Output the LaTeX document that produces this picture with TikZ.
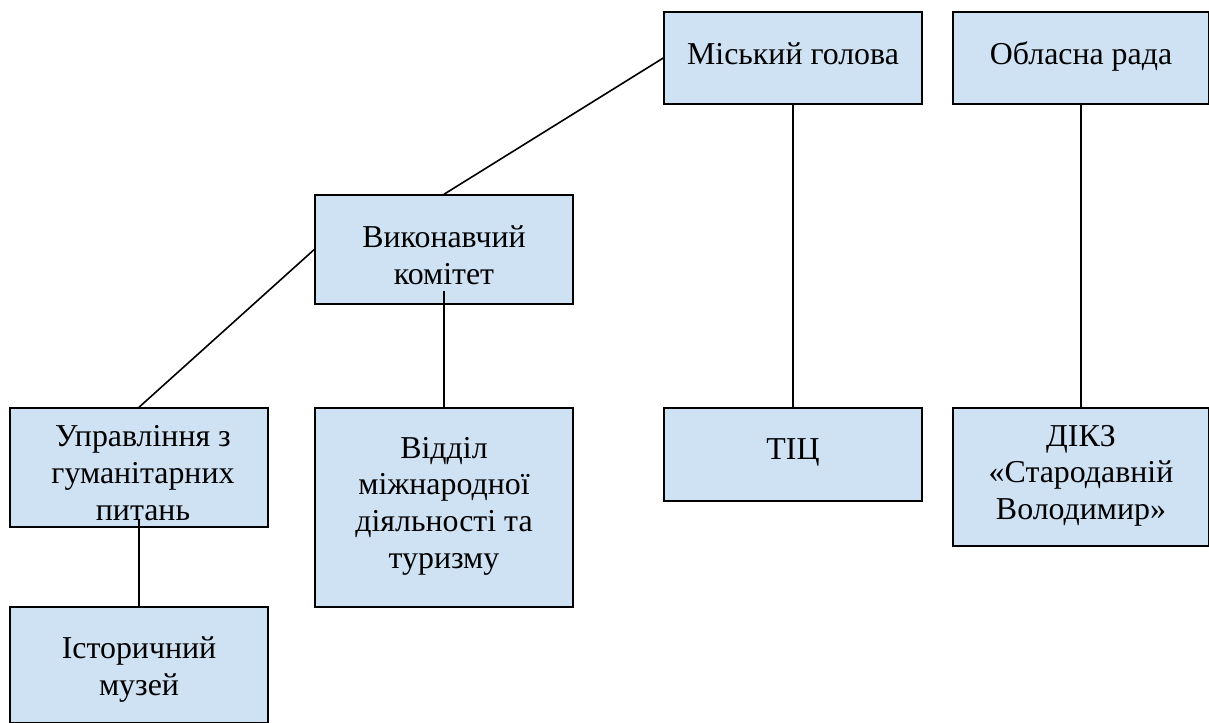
\documentclass[tikz,border=0pt]{standalone}
\usepackage{fontspec}
\setmainfont{Liberation Serif}
\usetikzlibrary{calc}
\definecolor{boxblue}{HTML}{CFE2F3}
\tikzset{box/.style={draw=black,fill=boxblue,line width=1.1pt,inner sep=0pt},
conn/.style={draw=black,line width=1.2pt}}
\newcommand{\bx}[8]{\node[box,minimum width=#3*0.75pt,minimum height=#4*0.75pt] (#5) at ({(#1+#3/2)*0.75pt},{-(#2+#4/2)*0.75pt}) {\smash{\makebox[0pt][c]{\hspace*{\dimexpr #8pt*3/2\relax}\raisebox{\dimexpr #7pt*3/4\relax}{\parbox[c]{\dimexpr #3pt*3/4\relax}{\centering\fontsize{23.9pt}{27.6pt}\selectfont #6}}}}};}
\begin{document}
\begin{tikzpicture}[x=0.75pt,y=-0.75pt]
\useasboundingbox (0,0) rectangle (1209,723);
\bx{664}{12}{258}{92}{mayor}{Міський голова}{1}{0}
\bx{953}{12}{256}{92}{oblast}{Обласна рада}{-2}{0}
\bx{315}{195}{258}{109}{vyk}{Виконавчий\\комітет}{-9}{0}
\bx{10}{408}{258}{119}{upr}{Управління з\\гуманітарних\\питань}{-9}{4}
\bx{315}{408}{258}{199}{vid}{Відділ\\міжнародної\\діяльності та\\туризму}{-2}{0}
\bx{664}{408}{258}{93}{tic}{ТІЦ}{-1}{0}
\bx{953}{408}{256}{138}{dikz}{ДІКЗ\\«Стародавній\\Володимир»}{-2}{0}
\bx{10}{607}{258}{116}{mus}{Історичний\\музей}{-8}{0}
\coordinate (vykin) at ($(vyk.south)+(0,-14)$);
\coordinate (uprin) at ($(upr.south)+(0,-9)$);
\draw[conn] (mayor.west) -- (vyk.north);
\draw[conn] (vyk.west) -- (upr.north);
\draw[conn] (vykin) -- (vid.north);
\draw[conn] (mayor.south) -- (tic.north);
\draw[conn] (oblast.south) -- (dikz.north);
\draw[conn] (uprin) -- (mus.north);
\end{tikzpicture}
\end{document}
